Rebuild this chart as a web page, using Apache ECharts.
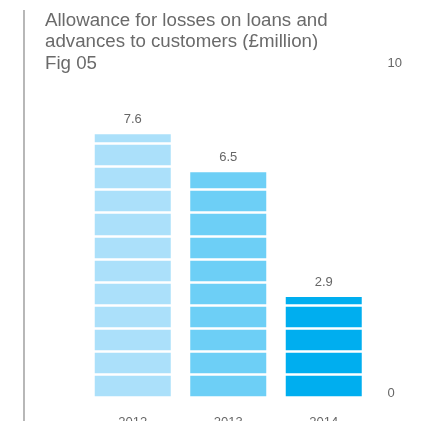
<!DOCTYPE html>
<html>
<head>
<meta charset="utf-8">
<script src="https://cdn.jsdelivr.net/npm/echarts@6/dist/echarts.min.js"></script>
<style>html,body{margin:0;padding:0;background:#fff}#c{width:430px;height:421px}</style>
</head>
<body>
<div id="c"></div>
<script>
const categories = ['2012', '2013', '2014'];
const values = [7.6, 6.5, 2.9];
const barColors = ['#abe0fa', '#6dcff6', '#00aeef'];
const axisMin = 0;
const axisMax = 10;
const stripeStep = 10 / 15;
const shownTicks = [0, 10];

const chart = echarts.init(document.getElementById('c'), null, {renderer: 'canvas'});
const font = '"Liberation Sans", Arial, Helvetica, sans-serif';
chart.setOption({
  animation: false,
  backgroundColor: '#ffffff',
  title: {
    text: 'Allowance for losses on loans and\nadvances to customers (£million)\nFig 05',
    left: 45, top: 10, padding: 0,
    textStyle: {fontFamily: font, fontSize: 18.7, lineHeight: 21.4, fontWeight: 'normal', color: '#6a6a6a'}
  },
  graphic: [{
    type: 'line', shape: {x1: 24, y1: 10, x2: 24, y2: 421},
    style: {stroke: '#a6a6a6', lineWidth: 1.6}
  }],
  grid: {left: 85, right: 58.5, top: 51, bottom: 23.5, containLabel: false, outerBoundsMode: 'none'},
  xAxis: {
    type: 'category', data: categories,
    axisLine: {show: false}, axisTick: {show: false},
    axisLabel: {color: '#666', fontFamily: font, fontSize: 13, margin: 18}
  },
  yAxis: {
    type: 'value', position: 'right', min: axisMin, max: axisMax, interval: stripeStep,
    z: 10,
    axisLine: {show: false}, axisTick: {show: false},
    splitLine: {show: true, lineStyle: {color: '#ffffff', width: 2.5}},
    axisLabel: {
      color: '#666', fontFamily: font, fontSize: 13, margin: 16,
      formatter: function (v) {
        if (Math.abs(v - shownTicks[1]) < 1e-6) return '{t|' + shownTicks[1] + '}';
        if (Math.abs(v - shownTicks[0]) < 1e-6) return '{b|' + shownTicks[0] + '}';
        return '';
      },
      rich: {
        t: {padding: [24, 0, 0, 0], color: '#666', fontFamily: font, fontSize: 13},
        b: {padding: [0, 0, 8, 0], color: '#666', fontFamily: font, fontSize: 13}
      }
    }
  },
  series: [{
    type: 'bar', barWidth: 76, z: 2,
    data: values.map((v, i) => ({value: v, itemStyle: {color: barColors[i]}}))
  }, {
    type: 'bar', barWidth: 76, barGap: '-100%', z: 20,
    itemStyle: {color: 'rgba(0,0,0,0)'},
    data: values,
    label: {show: true, position: 'top', distance: 8, color: '#666', fontFamily: font, fontSize: 13}
  }]
});
</script>
</body>
</html>
